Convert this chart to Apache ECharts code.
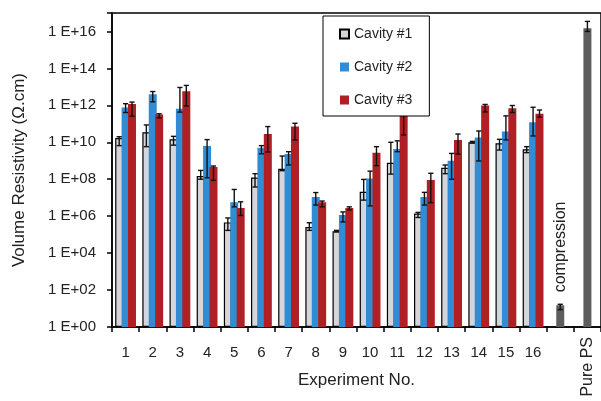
<!DOCTYPE html>
<html>
<head>
<meta charset="utf-8">
<script src="https://cdn.jsdelivr.net/npm/echarts@6/dist/echarts.min.js"></script>
<style>
html,body{margin:0;padding:0;background:#fff;}
#chart{width:601px;height:401px;}
</style>
</head>
<body>
<div id="chart"></div>
<script>
// ---- data ----
const categories = ['1','2','3','4','5','6','7','8','9','10','11','12','13','14','15','16','','Pure PS'];
const seriesNames = ['Cavity #1','Cavity #2','Cavity #3'];
const yTickLabels = ['1 E+00','1 E+02','1 E+04','1 E+06','1 E+08','1 E+10','1 E+12','1 E+14','1 E+16'];

const cavity1 = [1.7e10,3.5e10,1.45e10,1.5e8,4.6e5,1.25e8,3.7e8,2.6e5,1.55e5,2.1e7,7.8e8,1.4e6,4.2e8,1.0e10,8.9e9,4.2e9];
const cavity1Low = [6.6e9,5.8e9,7e9,1e8,1.7e5,3.8e7,2.9e8,1.7e5,1.4e5,7.4e6,1.9e8,8.5e5,2e8,9.1e9,3.8e9,2.75e9];
const cavity1High = [2.0e10,8.7e10,2.1e10,3e8,8e5,2e8,1.8e9,4.4e5,1.7e5,9.8e7,1e10,1.6e6,5.9e8,1.12e10,1.45e10,5.8e9];

const cavity2 = [7.6e11,4.0e12,6.6e11,6.3e9,5.6e6,5.1e9,2.3e9,1.1e7,1.15e6,1.1e8,4.4e9,1.1e7,1.0e9,1.8e10,3.8e10,1.23e11];
const cavity2Low = [4.1e11,1.55e12,4.3e11,1.2e8,3.2e6,2.4e9,5.9e8,4e6,4.9e5,3.6e6,3.1e9,4e6,1e8,9.8e8,1.35e10,2.2e10];
const cavity2High = [1.23e12,5.6e12,9.3e12,1.4e10,2.8e7,6.6e9,3.1e9,1.9e7,1.7e6,2.75e8,1.2e10,1.95e7,2.5e9,4.1e10,2.7e11,7.9e11];

const cavity3 = [1.2e12,3.2e11,5.8e12,4.6e8,2.8e6,2.8e10,7.1e10,5.6e6,2.8e6,2.75e9,3e11,9.1e7,1.35e10,9.8e11,6.9e11,3.5e11];
const cavity3Low = [2.6e11,2.1e11,9.3e11,8.7e7,1.1e6,3e9,1.35e10,3.2e6,2.2e6,5.4e8,2.5e10,5.4e6,2.3e9,4.4e11,4.1e11,2.3e11];
const cavity3High = [1.5e12,3.5e11,1.2e13,5.2e8,6e6,7.1e10,1.07e11,6.6e6,3.2e6,5.8e9,1.26e12,2.1e8,2.8e10,1.12e12,9.8e11,5.6e11];

const refNames = ['compression','Pure PS'];
const refValues = [15, 1.5e16];
const refLow = [8.7, 1e16];
const refHigh = [17, 3.5e16];

// ---- build options ----
const colors = ['#d5d6db','#318cd6','#b01f24'];
const refColor = '#5e5e5e';
const barWidth = 8;
const barGapRatio = -0.2;
const gapPx = barWidth * barGapRatio;
const totalW = 3 * barWidth + 2 * gapPx;
const offsets = [0,1,2].map(i => -totalW/2 + barWidth/2 + i*(barWidth+gapPx));

function errRender(offset){
  return function(params, api){
    const x = api.value(0);
    const p1 = api.coord([x, api.value(1)]);
    const p2 = api.coord([x, api.value(2)]);
    const cx = p1[0] + offset;
    const c = 2.6;
    const st = {stroke:'#111', lineWidth:1.4};
    return {type:'group', children:[
      {type:'line', shape:{x1:cx,y1:p1[1],x2:cx,y2:p2[1]}, style:st},
      {type:'line', shape:{x1:cx-c,y1:p1[1],x2:cx+c,y2:p1[1]}, style:st},
      {type:'line', shape:{x1:cx-c,y1:p2[1],x2:cx+c,y2:p2[1]}, style:st}
    ]};
  };
}
function errData(lo, hi, start){
  return lo.map((l,i) => [start+i, l, hi[i]]);
}

const cavVals = [cavity1,cavity2,cavity3];
const cavLo = [cavity1Low,cavity2Low,cavity3Low];
const cavHi = [cavity1High,cavity2High,cavity3High];

const series = [];
cavVals.forEach((vals, k) => {
  series.push({
    name: seriesNames[k], type:'bar', xAxisIndex:0, yAxisIndex:0,
    data: vals.concat([null,null]),
    barWidth: barWidth, barGap: (barGapRatio*100)+'%',
    itemStyle: k === 0 ? {color: colors[k], borderColor:'#000', borderWidth:1.2} : {color: colors[k]},
    emphasis:{disabled:true}, animation:false
  });
});
const refStart = cavity1.length;
series.push({
  name:'reference', type:'bar', xAxisIndex:1, yAxisIndex:0,
  data: cavity1.map(() => null).concat(refValues.map((v,i) => i === 0 ? {
    value: v,
    label: {show:true, formatter: refNames[i], position:'top', distance:13, rotate:90,
      align:'left', verticalAlign:'middle', fontSize:16, color:'#222', fontFamily:'Liberation Sans, Arial, sans-serif'}
  } : v)),
  barWidth: barWidth, itemStyle:{color: refColor}, animation:false
});
cavVals.forEach((vals, k) => {
  series.push({
    type:'custom', xAxisIndex:0, yAxisIndex:0, renderItem: errRender(offsets[k]),
    data: errData(cavLo[k], cavHi[k], 0), z:3, animation:false, silent:true
  });
});
series.push({
  type:'custom', xAxisIndex:1, yAxisIndex:0, renderItem: errRender(0),
  data: errData(refLow, refHigh, refStart), z:3, animation:false, silent:true
});

const font = 'Liberation Sans, Arial, sans-serif';
const chart = echarts.init(document.getElementById('chart'), null, {renderer:'canvas'});
chart.setOption({
  animation:false,
  backgroundColor:'#fff',
  textStyle:{fontFamily: font},
  grid:{left:112, right:-1, top:13, bottom:74, show:true, borderColor:'#000', borderWidth:1.5, backgroundColor:'transparent'},
  legend:{
    data: seriesNames.map(n => ({name:n, icon:'rect'})), orient:'vertical', left:323, top:16, z:10,
    itemWidth:9, itemHeight:9, itemGap:19,
    padding:[11,17,9,16], borderColor:'#000', borderWidth:1, backgroundColor:'#fff',
    textStyle:{fontSize:14, color:'#222', lineHeight:14, fontFamily:font},
    selectedMode:false
  },
  xAxis:[{
    type:'category', data: categories, position:'bottom',
    axisLine:{lineStyle:{color:'#000', width:1.5}},
    axisTick:{show:true, length:5, lineStyle:{color:'#000', width:1.5}},
    axisLabel:{interval:0, margin:18, fontSize:15, color:'#222', fontFamily:font,
      formatter:(v, i) => i === categories.length-1 ? '' : v},
    name:'Experiment No.', nameLocation:'middle', nameGap:45,
    nameTextStyle:{fontSize:17, color:'#222', fontFamily:font}
  },{
    type:'category', data: categories, position:'bottom',
    axisLine:{show:false}, axisTick:{show:false}, splitLine:{show:false},
    axisLabel:{interval:0, margin:10, rotate:90, fontSize:16, color:'#222', fontFamily:font,
      formatter:(v, i) => i === categories.length-1 ? v : ''}
  }],
  yAxis:{
    type:'log', logBase:10, min:1, max:1e17, interval:2,
    axisLine:{show:true, lineStyle:{color:'#000', width:1.5}},
    axisTick:{show:true, length:5, lineStyle:{color:'#000', width:1.5}},
    splitLine:{show:false},
    axisLabel:{margin:16, fontSize:15, color:'#222', fontFamily:font,
      formatter:(v) => {
        const e = Math.round(Math.log10(v));
        return (e % 2 === 0 && e/2 < yTickLabels.length) ? yTickLabels[e/2] : '';
      }},
    name:'Volume Resistivity (Ω.cm)', nameLocation:'middle', nameGap:84,
    nameTextStyle:{fontSize:17, color:'#222', fontFamily:font}
  },
  series: series
});
</script>
</body>
</html>
